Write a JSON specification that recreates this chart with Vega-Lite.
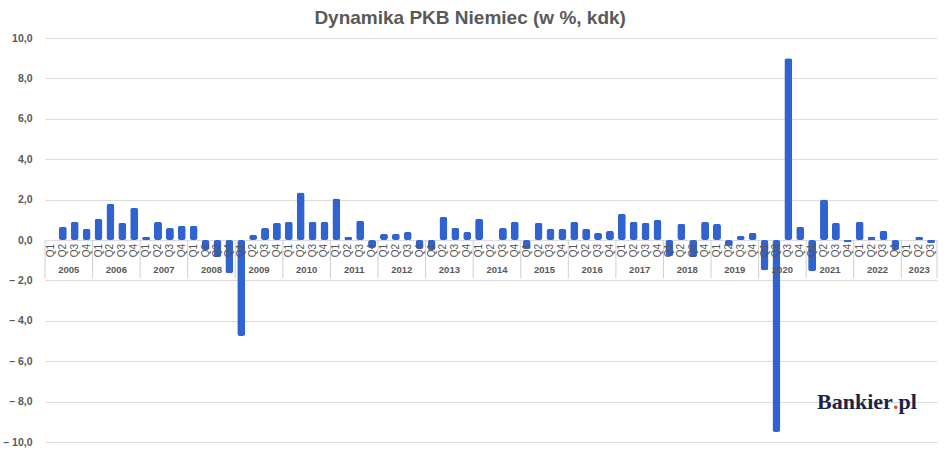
{
  "$schema": "https://vega.github.io/schema/vega-lite/v6.json",
  "width": 892,
  "height": 404,
  "autosize": {"type": "none"},
  "padding": {"left": 45, "top": 38, "right": 11, "bottom": 10},
  "background": "white",
  "title": {"text": "Dynamika PKB Niemiec (w %, kdk)", "font": "Liberation Sans", "fontSize": 19, "fontWeight": "bold", "color": "#595959", "anchor": "middle", "frame": "bounds", "offset": 5},
  "config": {"font": "Liberation Sans", "view": {"stroke": null}},
  "datasets": {
    "gdp": [
      {"k": "2005-Q1", "q": "Q1", "yr": "2005", "v": 0.0},
      {"k": "2005-Q2", "q": "Q2", "yr": "2005", "v": 0.65},
      {"k": "2005-Q3", "q": "Q3", "yr": "2005", "v": 0.9},
      {"k": "2005-Q4", "q": "Q4", "yr": "2005", "v": 0.55},
      {"k": "2006-Q1", "q": "Q1", "yr": "2006", "v": 1.05},
      {"k": "2006-Q2", "q": "Q2", "yr": "2006", "v": 1.8},
      {"k": "2006-Q3", "q": "Q3", "yr": "2006", "v": 0.85},
      {"k": "2006-Q4", "q": "Q4", "yr": "2006", "v": 1.6},
      {"k": "2007-Q1", "q": "Q1", "yr": "2007", "v": 0.15},
      {"k": "2007-Q2", "q": "Q2", "yr": "2007", "v": 0.9},
      {"k": "2007-Q3", "q": "Q3", "yr": "2007", "v": 0.6},
      {"k": "2007-Q4", "q": "Q4", "yr": "2007", "v": 0.7},
      {"k": "2008-Q1", "q": "Q1", "yr": "2008", "v": 0.7},
      {"k": "2008-Q2", "q": "Q2", "yr": "2008", "v": -0.5},
      {"k": "2008-Q3", "q": "Q3", "yr": "2008", "v": -0.85},
      {"k": "2008-Q4", "q": "Q4", "yr": "2008", "v": -1.65},
      {"k": "2009-Q1", "q": "Q1", "yr": "2009", "v": -4.75},
      {"k": "2009-Q2", "q": "Q2", "yr": "2009", "v": 0.25},
      {"k": "2009-Q3", "q": "Q3", "yr": "2009", "v": 0.6},
      {"k": "2009-Q4", "q": "Q4", "yr": "2009", "v": 0.85},
      {"k": "2010-Q1", "q": "Q1", "yr": "2010", "v": 0.9},
      {"k": "2010-Q2", "q": "Q2", "yr": "2010", "v": 2.35},
      {"k": "2010-Q3", "q": "Q3", "yr": "2010", "v": 0.9},
      {"k": "2010-Q4", "q": "Q4", "yr": "2010", "v": 0.9},
      {"k": "2011-Q1", "q": "Q1", "yr": "2011", "v": 2.05},
      {"k": "2011-Q2", "q": "Q2", "yr": "2011", "v": 0.15},
      {"k": "2011-Q3", "q": "Q3", "yr": "2011", "v": 0.95},
      {"k": "2011-Q4", "q": "Q4", "yr": "2011", "v": -0.4},
      {"k": "2012-Q1", "q": "Q1", "yr": "2012", "v": 0.3},
      {"k": "2012-Q2", "q": "Q2", "yr": "2012", "v": 0.3},
      {"k": "2012-Q3", "q": "Q3", "yr": "2012", "v": 0.4},
      {"k": "2012-Q4", "q": "Q4", "yr": "2012", "v": -0.45},
      {"k": "2013-Q1", "q": "Q1", "yr": "2013", "v": -0.5},
      {"k": "2013-Q2", "q": "Q2", "yr": "2013", "v": 1.15},
      {"k": "2013-Q3", "q": "Q3", "yr": "2013", "v": 0.6},
      {"k": "2013-Q4", "q": "Q4", "yr": "2013", "v": 0.4},
      {"k": "2014-Q1", "q": "Q1", "yr": "2014", "v": 1.05},
      {"k": "2014-Q2", "q": "Q2", "yr": "2014", "v": 0.0},
      {"k": "2014-Q3", "q": "Q3", "yr": "2014", "v": 0.6},
      {"k": "2014-Q4", "q": "Q4", "yr": "2014", "v": 0.9},
      {"k": "2015-Q1", "q": "Q1", "yr": "2015", "v": -0.45},
      {"k": "2015-Q2", "q": "Q2", "yr": "2015", "v": 0.85},
      {"k": "2015-Q3", "q": "Q3", "yr": "2015", "v": 0.55},
      {"k": "2015-Q4", "q": "Q4", "yr": "2015", "v": 0.55},
      {"k": "2016-Q1", "q": "Q1", "yr": "2016", "v": 0.9},
      {"k": "2016-Q2", "q": "Q2", "yr": "2016", "v": 0.55},
      {"k": "2016-Q3", "q": "Q3", "yr": "2016", "v": 0.35},
      {"k": "2016-Q4", "q": "Q4", "yr": "2016", "v": 0.45},
      {"k": "2017-Q1", "q": "Q1", "yr": "2017", "v": 1.3},
      {"k": "2017-Q2", "q": "Q2", "yr": "2017", "v": 0.9},
      {"k": "2017-Q3", "q": "Q3", "yr": "2017", "v": 0.85},
      {"k": "2017-Q4", "q": "Q4", "yr": "2017", "v": 1.0},
      {"k": "2018-Q1", "q": "Q1", "yr": "2018", "v": -0.8},
      {"k": "2018-Q2", "q": "Q2", "yr": "2018", "v": 0.8},
      {"k": "2018-Q3", "q": "Q3", "yr": "2018", "v": -0.85},
      {"k": "2018-Q4", "q": "Q4", "yr": "2018", "v": 0.9},
      {"k": "2019-Q1", "q": "Q1", "yr": "2019", "v": 0.8},
      {"k": "2019-Q2", "q": "Q2", "yr": "2019", "v": -0.3},
      {"k": "2019-Q3", "q": "Q3", "yr": "2019", "v": 0.2},
      {"k": "2019-Q4", "q": "Q4", "yr": "2019", "v": 0.35},
      {"k": "2020-Q1", "q": "Q1", "yr": "2020", "v": -1.5},
      {"k": "2020-Q2", "q": "Q2", "yr": "2020", "v": -9.5},
      {"k": "2020-Q3", "q": "Q3", "yr": "2020", "v": 9.0},
      {"k": "2020-Q4", "q": "Q4", "yr": "2020", "v": 0.65},
      {"k": "2021-Q1", "q": "Q1", "yr": "2021", "v": -1.55},
      {"k": "2021-Q2", "q": "Q2", "yr": "2021", "v": 2.0},
      {"k": "2021-Q3", "q": "Q3", "yr": "2021", "v": 0.85},
      {"k": "2021-Q4", "q": "Q4", "yr": "2021", "v": -0.1},
      {"k": "2022-Q1", "q": "Q1", "yr": "2022", "v": 0.9},
      {"k": "2022-Q2", "q": "Q2", "yr": "2022", "v": 0.15},
      {"k": "2022-Q3", "q": "Q3", "yr": "2022", "v": 0.45},
      {"k": "2022-Q4", "q": "Q4", "yr": "2022", "v": -0.5},
      {"k": "2023-Q1", "q": "Q1", "yr": "2023", "v": 0.0},
      {"k": "2023-Q2", "q": "Q2", "yr": "2023", "v": 0.15},
      {"k": "2023-Q3", "q": "Q3", "yr": "2023", "v": -0.15}
    ],
    "logo": [{"a": "Bankier", "dot": ".", "b": "pl"}]
  },
  "layer": [
    {
      "data": {"name": "gdp"},
      "mark": {"type": "bar", "width": {"band": 0.67}, "cornerRadius": 2.5, "color": "#3063cf"},
      "encoding": {
        "x": {"field": "k", "type": "nominal", "axis": null, "scale": {"paddingInner": 0, "paddingOuter": 0}},
        "y": {"field": "v", "type": "quantitative", "title": null,
          "scale": {"domain": [-10, 10], "nice": false},
          "axis": {"values": [-10, -8, -6, -4, -2, 0, 2, 4, 6, 8, 10], "grid": true, "gridColor": "#dcdcdc", "domain": false, "ticks": false, "labelPadding": 13, "labelFontSize": 10.5, "labelFontWeight": "bold", "labelColor": "#595959",
            "labelExpr": "datum.value < 0 ? '– ' + replace(format(-datum.value, '.1f'), '.', ',') : replace(format(datum.value, '.1f'), '.', ',')"}
        }
      }
    },
    {
      "data": {"name": "gdp"},
      "transform": [{"filter": "datum.q == 'Q1'"}],
      "mark": {"type": "rule", "color": "#d0d0d0", "strokeWidth": 1},
      "encoding": {
        "x": {"field": "k", "type": "nominal", "bandPosition": 0},
        "y": {"datum": 0},
        "y2": {"datum": -1.9}
      }
    },
    {
      "data": {"name": "gdp"},
      "transform": [{"filter": "datum.k == '2023-Q3'"}],
      "mark": {"type": "rule", "color": "#d0d0d0", "strokeWidth": 1},
      "encoding": {
        "x": {"field": "k", "type": "nominal", "bandPosition": 1},
        "y": {"datum": 0},
        "y2": {"datum": -1.9}
      }
    },
    {
      "data": {"name": "gdp"},
      "mark": {"type": "text", "angle": 270, "align": "right", "baseline": "middle", "dx": -4, "fontSize": 10, "color": "#555555"},
      "encoding": {
        "x": {"field": "k", "type": "nominal"},
        "y": {"datum": 0},
        "text": {"field": "q", "type": "nominal"}
      }
    },
    {
      "data": {"name": "gdp"},
      "transform": [{"filter": "datum.q == 'Q2' && datum.yr != '2023'"}],
      "mark": {"type": "text", "align": "center", "baseline": "middle", "fontSize": 9.5, "fontWeight": "bold", "color": "#595959"},
      "encoding": {
        "x": {"field": "k", "type": "nominal", "bandPosition": 1},
        "y": {"datum": -1.48},
        "text": {"field": "yr", "type": "nominal"}
      }
    },
    {
      "data": {"name": "gdp"},
      "transform": [{"filter": "datum.k == '2023-Q2'"}],
      "mark": {"type": "text", "align": "center", "baseline": "middle", "fontSize": 9.5, "fontWeight": "bold", "color": "#595959"},
      "encoding": {
        "x": {"field": "k", "type": "nominal", "bandPosition": 0.5},
        "y": {"datum": -1.48},
        "text": {"field": "yr", "type": "nominal"}
      }
    },
    {
      "data": {"name": "logo"},
      "mark": {"type": "text", "align": "left", "baseline": "alphabetic", "font": "Liberation Serif", "fontSize": 22, "fontWeight": "bold", "color": "#1b2444", "dx": -1},
      "encoding": {
        "x": {"datum": "2021-Q2", "type": "nominal", "bandPosition": 0},
        "y": {"datum": -8.37},
        "text": {"field": "a", "type": "nominal"}
      }
    },
    {
      "data": {"name": "logo"},
      "mark": {"type": "text", "align": "left", "baseline": "alphabetic", "font": "Liberation Serif", "fontSize": 22, "fontWeight": "bold", "color": "#e8501a", "dx": 75},
      "encoding": {
        "x": {"datum": "2021-Q2", "type": "nominal", "bandPosition": 0},
        "y": {"datum": -8.37},
        "text": {"field": "dot", "type": "nominal"}
      }
    },
    {
      "data": {"name": "logo"},
      "mark": {"type": "text", "align": "left", "baseline": "alphabetic", "font": "Liberation Serif", "fontSize": 22, "fontWeight": "bold", "color": "#1b2444", "dx": 80.5},
      "encoding": {
        "x": {"datum": "2021-Q2", "type": "nominal", "bandPosition": 0},
        "y": {"datum": -8.37},
        "text": {"field": "b", "type": "nominal"}
      }
    }
  ]
}
